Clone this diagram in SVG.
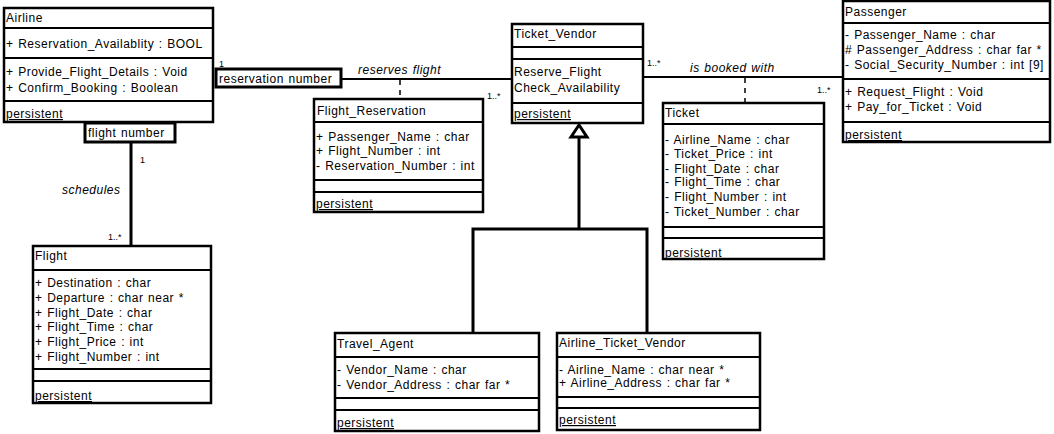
<svg xmlns="http://www.w3.org/2000/svg" width="1054" height="434" viewBox="0 0 1054 434">
<style>
.box{fill:#fff;stroke:#000;stroke-width:2.5}
.dv{stroke:#000;stroke-width:2;fill:none}
.t{font-family:"Liberation Sans",Arial,sans-serif;font-size:12px;fill:#000;letter-spacing:0.5px;word-spacing:0.8px}
.p{text-decoration:underline}
.i{font-style:italic}
.m{font-family:"Liberation Sans",Arial,sans-serif;font-size:9px;fill:#000}
.ln{stroke:#000;stroke-width:2;fill:none}
.thk{stroke:#000;stroke-width:3;fill:none}
.dash{stroke:#000;stroke-width:1.5;stroke-dasharray:5,5;fill:none}
</style>
<rect width="1054" height="434" fill="#fff"/>
<g id="connectors">
<line class="ln" x1="341" y1="79" x2="512" y2="79"/>
<line class="dash" x1="400" y1="80" x2="400" y2="99"/>
<text class="t i" x="358" y="74">reserves flight</text>
<text class="m" x="487" y="99">1..*</text>
<line class="ln" x1="643" y1="77" x2="843" y2="77"/>
<line class="dash" x1="745" y1="78" x2="745" y2="103"/>
<text class="t i" x="690" y="72">is booked with</text>
<text class="m" x="647" y="66">1..*</text>
<text class="m" x="817" y="93">1..*</text>
<line class="thk" x1="131" y1="142" x2="131" y2="246"/>
<text class="m" x="140" y="163">1</text>
<text class="t i" x="62" y="194">schedules</text>
<text class="m" x="108" y="240">1..*</text>
<text class="m" x="219" y="67">1</text>
<line class="thk" x1="579" y1="137" x2="579" y2="229"/>
<polyline class="thk" points="473,333 473,229 647,229 647,333"/>
<polygon points="579,125 571,137 587,137" fill="#fff" stroke="#000" stroke-width="3"/>
</g>
<g id="reservation_number">
<rect x="216" y="69" width="125" height="18" fill="#fff" stroke="#000" stroke-width="3"/>
<text class="t" x="219" y="83">reservation number</text>
</g>
<g id="flight_number">
<rect x="85" y="123" width="90" height="19" fill="#fff" stroke="#000" stroke-width="3"/>
<text class="t" x="88" y="137">flight number</text>
</g>
<g id="Airline">
<rect class="box" x="4" y="8" width="209" height="114"/>
<line class="dv" x1="4" y1="28" x2="213" y2="28"/>
<line class="dv" x1="4" y1="58" x2="213" y2="58"/>
<line class="dv" x1="4" y1="101" x2="213" y2="101"/>
<text class="t" x="6" y="22">Airline</text>
<text class="t" x="6" y="48">+ Reservation_Availablity : BOOL</text>
<text class="t" x="6" y="76">+ Provide_Flight_Details : Void</text>
<text class="t" x="6" y="92">+ Confirm_Booking : Boolean</text>
<text class="t p" x="6" y="118">persistent</text>
</g>
<g id="Flight_Reservation">
<rect class="box" x="314" y="99" width="169" height="113"/>
<line class="dv" x1="314" y1="122" x2="483" y2="122"/>
<line class="dv" x1="314" y1="180" x2="483" y2="180"/>
<line class="dv" x1="314" y1="192" x2="483" y2="192"/>
<text class="t" x="317" y="115">Flight_Reservation</text>
<text class="t" x="316" y="141">+ Passenger_Name : char</text>
<text class="t" x="316" y="155">+ Flight_Number : int</text>
<text class="t" x="316" y="170">- Reservation_Number : int</text>
<text class="t p" x="316" y="208">persistent</text>
</g>
<g id="Ticket_Vendor">
<rect class="box" x="512" y="24" width="131" height="99"/>
<line class="dv" x1="512" y1="47" x2="643" y2="47"/>
<line class="dv" x1="512" y1="59" x2="643" y2="59"/>
<line class="dv" x1="512" y1="103" x2="643" y2="103"/>
<text class="t" x="514" y="38">Ticket_Vendor</text>
<text class="t" x="514" y="76">Reserve_Flight</text>
<text class="t" x="514" y="92">Check_Availability</text>
<text class="t p" x="514" y="118">persistent</text>
</g>
<g id="Ticket">
<rect class="box" x="663" y="103" width="161" height="156"/>
<line class="dv" x1="663" y1="124" x2="824" y2="124"/>
<line class="dv" x1="663" y1="227" x2="824" y2="227"/>
<line class="dv" x1="663" y1="238" x2="824" y2="238"/>
<text class="t" x="665" y="117">Ticket</text>
<text class="t" x="665" y="144">- Airline_Name : char</text>
<text class="t" x="665" y="158">- Ticket_Price : int</text>
<text class="t" x="665" y="173">- Flight_Date : char</text>
<text class="t" x="665" y="186">- Flight_Time : char</text>
<text class="t" x="665" y="201">- Flight_Number : int</text>
<text class="t" x="665" y="216">- Ticket_Number : char</text>
<text class="t p" x="665" y="257">persistent</text>
</g>
<g id="Passenger">
<rect class="box" x="843" y="1" width="207" height="141"/>
<line class="dv" x1="843" y1="23" x2="1050" y2="23"/>
<line class="dv" x1="843" y1="79" x2="1050" y2="79"/>
<line class="dv" x1="843" y1="122" x2="1050" y2="122"/>
<text class="t" x="845" y="16">Passenger</text>
<text class="t" x="845" y="39">- Passenger_Name : char</text>
<text class="t" x="845" y="54"># Passenger_Address : char far *</text>
<text class="t" x="845" y="69">- Social_Security_Number : int [9]</text>
<text class="t" x="845" y="96">+ Request_Flight : Void</text>
<text class="t" x="845" y="111">+ Pay_for_Ticket : Void</text>
<text class="t p" x="845" y="139">persistent</text>
</g>
<g id="Flight">
<rect class="box" x="33" y="246" width="178" height="157"/>
<line class="dv" x1="33" y1="270" x2="211" y2="270"/>
<line class="dv" x1="33" y1="369" x2="211" y2="369"/>
<line class="dv" x1="33" y1="381" x2="211" y2="381"/>
<text class="t" x="35" y="260">Flight</text>
<text class="t" x="35" y="287">+ Destination : char</text>
<text class="t" x="35" y="302">+ Departure : char near *</text>
<text class="t" x="35" y="317">+ Flight_Date : char</text>
<text class="t" x="35" y="331">+ Flight_Time : char</text>
<text class="t" x="35" y="346">+ Flight_Price : int</text>
<text class="t" x="35" y="361">+ Flight_Number : int</text>
<text class="t p" x="35" y="400">persistent</text>
</g>
<g id="Travel_Agent">
<rect class="box" x="335" y="333" width="204" height="98"/>
<line class="dv" x1="335" y1="357" x2="539" y2="357"/>
<line class="dv" x1="335" y1="398" x2="539" y2="398"/>
<line class="dv" x1="335" y1="410" x2="539" y2="410"/>
<text class="t" x="337" y="348">Travel_Agent</text>
<text class="t" x="337" y="374">- Vendor_Name : char</text>
<text class="t" x="337" y="389">- Vendor_Address : char far *</text>
<text class="t p" x="337" y="427">persistent</text>
</g>
<g id="Airline_Ticket_Vendor">
<rect class="box" x="557" y="333" width="203" height="97"/>
<line class="dv" x1="557" y1="357" x2="760" y2="357"/>
<line class="dv" x1="557" y1="397" x2="760" y2="397"/>
<line class="dv" x1="557" y1="408" x2="760" y2="408"/>
<text class="t" x="559" y="347">Airline_Ticket_Vendor</text>
<text class="t" x="559" y="374">- Airline_Name : char near *</text>
<text class="t" x="559" y="387">+ Airline_Address : char far *</text>
<text class="t p" x="559" y="424">persistent</text>
</g>
</svg>
